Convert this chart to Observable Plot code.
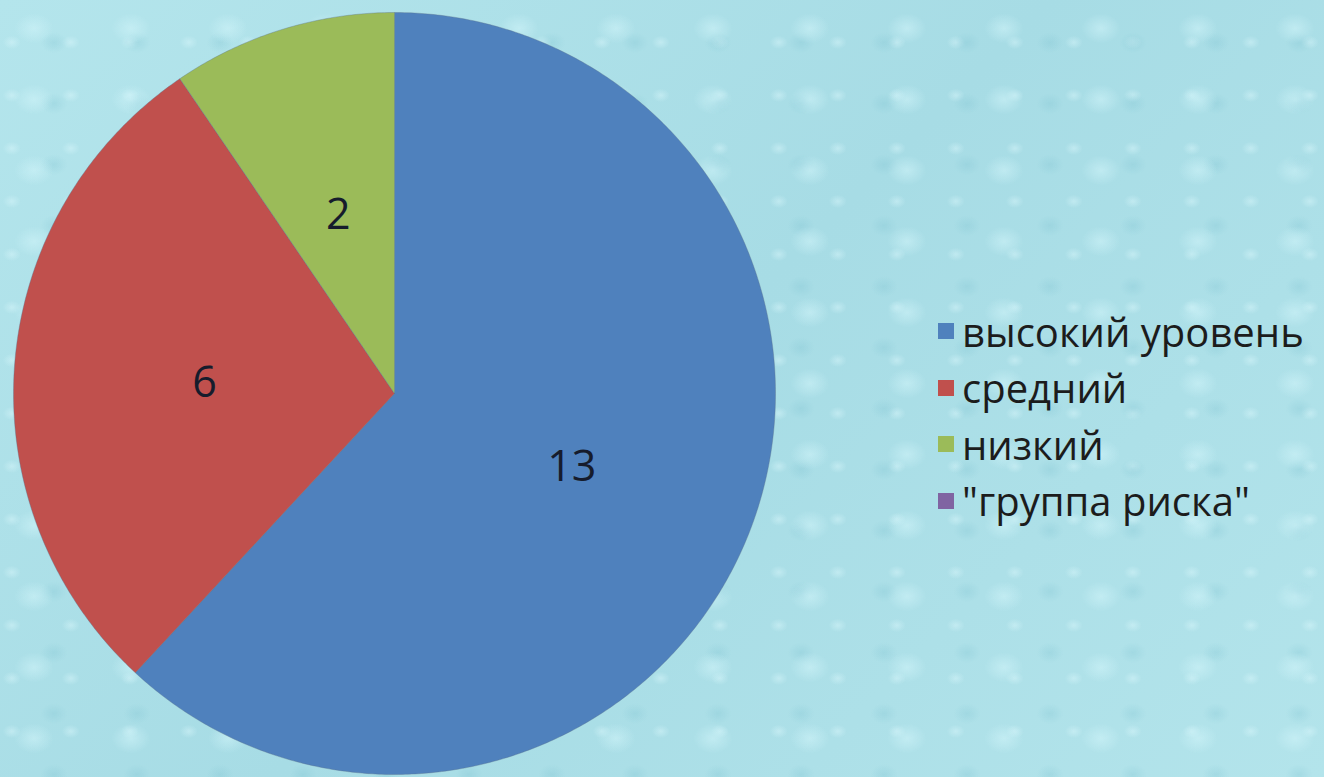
<!DOCTYPE html>
<html>
<head>
<meta charset="utf-8">
<script src="https://cdn.jsdelivr.net/npm/d3@7"></script>
<script src="https://cdn.jsdelivr.net/npm/@observablehq/plot@0.6"></script>
<style>
  html, body { margin: 0; padding: 0; }
  #wrap {
    position: relative; width: 1324px; height: 777px; overflow: hidden;
    background-color: #ace0e8;
    background-image:
      radial-gradient(ellipse 26px 20px at 35% 40%, rgba(210,245,250,0.55), rgba(210,245,250,0) 75%),
      radial-gradient(ellipse 18px 14px at 65% 70%, rgba(120,190,205,0.25), rgba(120,190,205,0) 75%),
      radial-gradient(ellipse 12px 9px at 20% 80%, rgba(220,248,252,0.45), rgba(220,248,252,0) 75%),
      linear-gradient(135deg, #b4e5ec 0%, #a7dce5 50%, #b3e4eb 100%);
    background-size: 97px 71px, 83px 61px, 59px 53px, 100% 100%;
  }
  #chart { position: absolute; left: 0; top: 0; }
  #legend {
    position: absolute; left: 938px; top: 303px;
    font-family: "Open Sans", sans-serif; font-size: 40px; color: #1c1c1c;
  }
  #legend .row { display: flex; align-items: center; height: 56.5px; white-space: nowrap; }
  #legend .sw { width: 16px; height: 16px; margin-right: 8px; flex: none; }
</style>
</head>
<body>
<div id="wrap"><div id="chart"></div><div id="legend"></div></div>
<script>
const categories = ["высокий уровень", "средний", "низкий", "\"группа риска\""];
const values = [13, 6, 2, 0];
const colors = ["#4f81bd", "#c0504d", "#9bbb59", "#8064a2"];

const total = d3.sum(values);
const slices = [];
const labels = [];
let acc = 0;
categories.forEach((c, i) => {
  const a0 = acc / total * 2 * Math.PI;
  acc += values[i];
  const a1 = acc / total * 2 * Math.PI;
  if (values[i] <= 0) return;
  slices.push({cat: c, x: 0, y: 0});
  const n = Math.max(2, Math.ceil((a1 - a0) / (Math.PI / 360)));
  for (let k = 0; k <= n; k++) {
    const a = a0 + (a1 - a0) * k / n;
    slices.push({cat: c, x: Math.sin(a), y: Math.cos(a)});
  }
  slices.push({cat: c, x: 0, y: 0});
  const m = (a0 + a1) / 2;
  labels.push({cat: c, value: values[i], x: 0.5 * Math.sin(m), y: 0.5 * Math.cos(m)});
});

const plot = Plot.plot({
  width: 1324,
  height: 777,
  marginLeft: 13,
  marginRight: 549,
  marginTop: 12,
  marginBottom: 3,
  x: {domain: [-1, 1], axis: null},
  y: {domain: [-1, 1], axis: null},
  color: {domain: categories, range: colors},
  style: {background: "transparent", overflow: "visible"},
  marks: [
    Plot.line(slices, {x: "x", y: "y", z: "cat", fill: "cat", stroke: "#5a6f88", strokeWidth: 0.6, strokeOpacity: 0.6, curve: "linear"}),
    Plot.text(labels, {x: "x", y: "y", dy: 4, text: d => String(d.value), fill: "#161c2c", fontSize: 43, fontFamily: "Open Sans, sans-serif"})
  ]
});
document.getElementById("chart").appendChild(plot);

const legend = document.getElementById("legend");
categories.forEach((c, i) => {
  const row = document.createElement("div");
  row.className = "row";
  const sw = document.createElement("span");
  sw.className = "sw";
  sw.style.background = colors[i];
  const t = document.createElement("span");
  t.textContent = c;
  row.appendChild(sw); row.appendChild(t);
  legend.appendChild(row);
});
</script>
</body>
</html>
